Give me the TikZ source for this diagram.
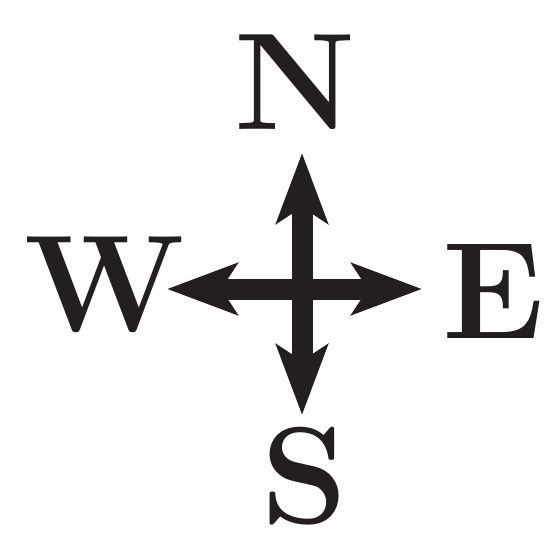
\documentclass[tikz,border=0pt]{standalone}
\usepackage{fontspec}
\usepackage{tikz}
\usetikzlibrary{arrows.meta,positioning}
\definecolor{compassInk}{HTML}{231F20}
\tikzset{
  every picture/.style={text=compassInk},
  compass letter/.style={font=\fontsize{138}{140}\selectfont\bfseries,
    inner sep=0pt, anchor=base},
  compass arrow/.style={{Stealth[length=70pt,width=51pt,inset=16pt]}-{Stealth[length=70pt,width=51pt,inset=16pt]},
    draw=compassInk, fill=compassInk, line width=21pt, line cap=butt}
}
\begin{document}
\begin{tikzpicture}[x=1pt,y=1pt]
  \useasboundingbox (0,0) rectangle (545,533);
  % arrow ends
  \coordinate (up) at (302,380);
  \coordinate (down) at (302,118);
  \coordinate (left) at (167,244);
  \coordinate (right) at (422,244);
  \draw[compass arrow] (down) -- (up);
  \draw[compass arrow] (left) -- (right);
  % letters
  \node[compass letter] (north) at (295,403) {N};
  \node[compass letter] (south) at (305,10) {S};
  \node[compass letter] (west) at (105,202) {W};
  \node[compass letter] (east) at (493,195) {E};
\end{tikzpicture}
\end{document}
